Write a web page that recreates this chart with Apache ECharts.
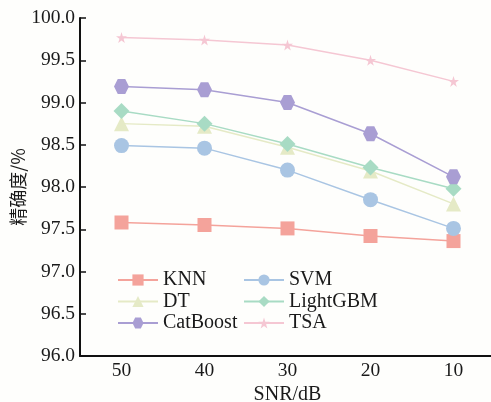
<!DOCTYPE html>
<html>
<head>
<meta charset="utf-8">
<script src="https://cdn.jsdelivr.net/npm/echarts@6/dist/echarts.min.js"></script>
<style>
  html, body { margin: 0; padding: 0; background: #fefefc; }
  #chart { width: 491px; height: 402px; }
</style>
</head>
<body>
<div id="chart"></div>
<script>
// SNR levels (x axis)
var snrLevels = ['50', '40', '30', '20', '10'];

// precision (%) per model
var knnData = [97.58, 97.55, 97.51, 97.42, 97.36];
var svmData = [98.49, 98.46, 98.20, 97.85, 97.51];
var dtData = [98.75, 98.72, 98.47, 98.19, 97.80];
var lightgbmData = [98.90, 98.75, 98.51, 98.23, 97.98];
var catboostData = [99.19, 99.15, 99.00, 98.63, 98.12];
var tsaData = [99.77, 99.74, 99.68, 99.50, 99.25];

var hexagon = 'path://M0,5 L3,0 L9,0 L12,5 L9,10 L3,10 Z';
var star = 'path://M50,0 L61,35 L98,35 L68,57 L79,91 L50,70 L21,91 L32,57 L2,35 L39,35 Z';

var serif = 'Liberation Serif';

function makeSeries(name, data, color, symbol, size) {
    return {
        name: name,
        type: 'line',
        data: data,
        symbol: symbol,
        symbolSize: size,
        color: color,
        lineStyle: { width: 1.5, color: color },
        itemStyle: { color: color }
    };
}

var legendText = { fontFamily: serif, fontSize: 20, lineHeight: 20, color: '#1a1a1a' };

var chart = echarts.init(document.getElementById('chart'));
var option = {
    backgroundColor: '#fefefc',
    animation: false,
    grid: { left: 80, right: -4, top: 18, bottom: 46, outerBoundsMode: 'none', containLabel: false },
    legend: [
        {
            data: ['KNN', 'DT', 'CatBoost'],
            orient: 'vertical',
            left: 117, top: 270, padding: 0,
            itemWidth: 40, itemHeight: 14, itemGap: 1.5,
            textStyle: legendText
        },
        {
            data: ['SVM', 'LightGBM', 'TSA'],
            orient: 'vertical',
            left: 243, top: 270, padding: 0,
            itemWidth: 40, itemHeight: 14, itemGap: 1.5,
            textStyle: legendText
        }
    ],
    xAxis: {
        type: 'category',
        data: snrLevels,
        boundaryGap: true,
        name: 'SNR/dB',
        nameLocation: 'middle',
        nameGap: 29,
        nameMoveOverlap: false,
        nameTextStyle: { fontFamily: serif, fontSize: 20, color: '#1a1a1a' },
        axisLine: { lineStyle: { color: '#111', width: 2 } },
        axisTick: { inside: true, alignWithLabel: true, length: 6, lineStyle: { color: '#111', width: 1.5 } },
        axisLabel: { fontFamily: serif, fontSize: 19.5, color: '#1a1a1a', margin: 5 }
    },
    yAxis: {
        type: 'value',
        min: 96,
        max: 100,
        interval: 0.5,
        name: '精确度/%',
        nameLocation: 'middle',
        nameGap: 53,
        nameMoveOverlap: false,
        nameTextStyle: { fontFamily: 'Noto Sans CJK SC', fontSize: 18, color: '#1a1a1a' },
        axisLine: { show: true, lineStyle: { color: '#111', width: 2 } },
        axisTick: { show: true, inside: true, length: 6, lineStyle: { color: '#111', width: 1.5 } },
        splitLine: { show: false },
        axisLabel: {
            fontFamily: serif, fontSize: 19.5, color: '#1a1a1a', margin: 5,
            formatter: function (v) { return v.toFixed(1); }
        }
    },
    series: [
        makeSeries('KNN', knnData, '#f4a39b', 'rect', 14),
        makeSeries('SVM', svmData, '#a9c5e3', 'circle', 15),
        makeSeries('DT', dtData, '#e5eac6', 'triangle', 15),
        makeSeries('LightGBM', lightgbmData, '#a8dbc4', 'diamond', 16),
        makeSeries('CatBoost', catboostData, '#a99ed3', hexagon, 15),
        makeSeries('TSA', tsaData, '#f5c7d3', star, 11)
    ]
};
chart.setOption(option);
</script>
</body>
</html>
